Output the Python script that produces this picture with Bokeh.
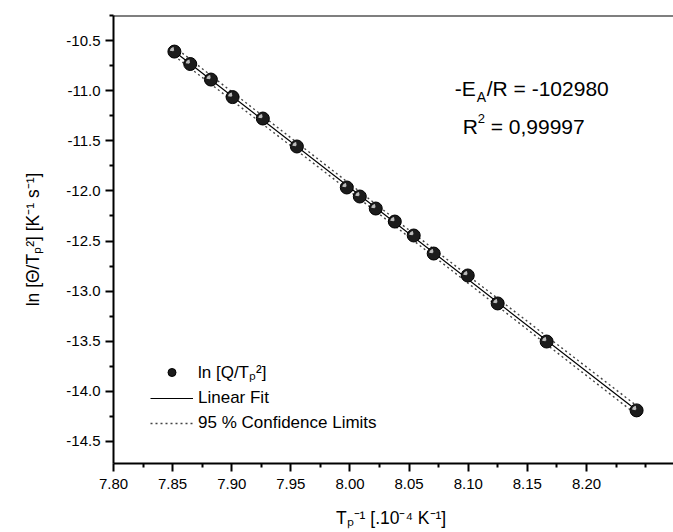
from bokeh.plotting import figure
from bokeh.models import Range1d, FixedTicker, Span, Label, Legend, LegendItem, CustomJSTickFormatter
from bokeh.embed import file_html
from bokeh.resources import INLINE
import numpy as np

# ---- data ----
x_vals = [7.8515, 7.8649, 7.8824, 7.9007, 7.9263, 7.9551, 7.9973, 8.0083,
          8.0218, 8.0379, 8.0539, 8.0708, 8.0996, 8.1249, 8.1663, 8.2424]
y_vals = [-10.610, -10.734, -10.889, -11.064, -11.278, -11.557, -11.966, -12.056,
          -12.176, -12.306, -12.445, -12.625, -12.844, -13.123, -13.503, -14.190]
# half-width of the 95 % confidence band (ln units) at first, middle, last point
conf_halfwidth = [0.045, 0.035, 0.045]

x_ticks = [7.80, 7.85, 7.90, 7.95, 8.00, 8.05, 8.10, 8.15, 8.20]
x_minor = [7.825, 7.875, 7.925, 7.975, 8.025, 8.075, 8.125, 8.175, 8.225, 8.25]
y_ticks = [-14.5, -14.0, -13.5, -13.0, -12.5, -12.0, -11.5, -11.0, -10.5]
y_minor = [-14.75, -14.25, -13.75, -13.25, -12.75, -12.25, -11.75, -11.25, -10.75, -10.25]

FONT = "Liberation Sans"

p = figure(width=673, height=532, x_range=Range1d(7.80, 8.2736), y_range=Range1d(-14.72, -10.25),
           output_backend="svg", toolbar_location=None,
           min_border_left=113, min_border_right=0, min_border_top=15, min_border_bottom=69)
p.grid.visible = False
p.outline_line_color = None
p.background_fill_color = "white"

# fit and confidence limits
coef = np.polyfit(x_vals, y_vals, 1)
xs_fit = [min(x_vals), max(x_vals)]
ys_fit = [coef[0] * v + coef[1] for v in xs_fit]
xs_c = [min(x_vals), (min(x_vals) + max(x_vals)) / 2, max(x_vals)]
yc = [coef[0] * v + coef[1] for v in xs_c]
up = [a + h for a, h in zip(yc, conf_halfwidth)]
lo = [a - h for a, h in zip(yc, conf_halfwidth)]

r_fit = p.line(xs_fit, ys_fit, line_color="black", line_width=1.2)
r_up = p.line(xs_c, up, line_color="#444444", line_width=1.4, line_dash="2 3")
p.line(xs_c, lo, line_color="#444444", line_width=1.4, line_dash="2 3")

r_pts = p.scatter(x_vals, y_vals, size=13, fill_color="#1c1c1c", line_color="black", line_width=1)
p.annular_wedge(x_vals, y_vals, inner_radius=1.2, inner_radius_units="screen",
                outer_radius=4.6, outer_radius_units="screen",
                start_angle=np.deg2rad(100), end_angle=np.deg2rad(170),
                fill_color="#d8d8d8", fill_alpha=0.85, line_color=None)

# axes
for ax in (p.xaxis[0], p.yaxis[0]):
    ax.axis_line_width = 2
    ax.axis_line_color = "black"
    ax.major_tick_line_width = 2
    ax.minor_tick_line_width = 2
    ax.major_tick_out = 8
    ax.major_tick_in = 0
    ax.minor_tick_out = 4
    ax.minor_tick_in = 0
    ax.major_label_text_font = FONT
    ax.major_label_text_font_size = "15px"
    ax.major_label_text_color = "black"
    ax.axis_label_text_font = FONT
    ax.axis_label_text_font_size = "17.5px"
    ax.axis_label_text_font_style = "normal"
    ax.axis_label_text_color = "black"

p.xaxis.ticker = FixedTicker(ticks=x_ticks, minor_ticks=x_minor)
p.yaxis.ticker = FixedTicker(ticks=y_ticks, minor_ticks=y_minor)
p.xaxis.formatter = CustomJSTickFormatter(code="return tick.toFixed(2);")
p.yaxis.formatter = CustomJSTickFormatter(code="return tick.toFixed(1);")
p.xaxis.major_label_standoff = 7
p.yaxis.major_label_standoff = 5
p.xaxis.axis_label = "T\u209a\u207b\u00b9  [.10\u207b\u2074 K\u207b\u00b9]"
p.yaxis.axis_label = "ln [\u0398/T\u209a\u00b2] [K\u207b\u00b9 s\u207b\u00b9]"
p.xaxis.axis_label_standoff = 16
p.yaxis.axis_label_standoff = 20

p.add_layout(Span(location=-10.25, dimension="width", line_color="black", line_width=2))

# annotations
ax0, ay0 = 8.0886, -10.979
ax1, ay1 = 8.0953, -11.358
common = dict(text_font=FONT, text_color="black", text_baseline="alphabetic")
p.add_layout(Label(x=ax0, y=ay0, text="-E", text_font_size="21px", **common))
p.add_layout(Label(x=ax0, y=ay0, x_offset=22, y_offset=-8, text="A", text_font_size="14px", **common))
p.add_layout(Label(x=ax0, y=ay0, x_offset=32, text="/R = -102980", text_font_size="21px", **common))
p.add_layout(Label(x=ax1, y=ay1, text="R", text_font_size="21px", **common))
p.add_layout(Label(x=ax1, y=ay1, x_offset=15, y_offset=8, text="2", text_font_size="13px", **common))
p.add_layout(Label(x=ax1, y=ay1, x_offset=28, text="= 0,99997", text_font_size="21px", **common))

legend = Legend(items=[
    LegendItem(label="ln [Q/T\u209a\u00b2]", renderers=[r_pts]),
    LegendItem(label="Linear Fit", renderers=[r_fit]),
    LegendItem(label="95 % Confidence Limits", renderers=[r_up]),
], location=(37, 30), glyph_width=43, glyph_height=20, label_standoff=5, spacing=5,
   padding=0, margin=0, border_line_color=None, background_fill_alpha=0,
   label_text_font=FONT, label_text_font_size="17px", label_text_color="black")
p.add_layout(legend)

open("out.html", "w").write(file_html(p, INLINE))
